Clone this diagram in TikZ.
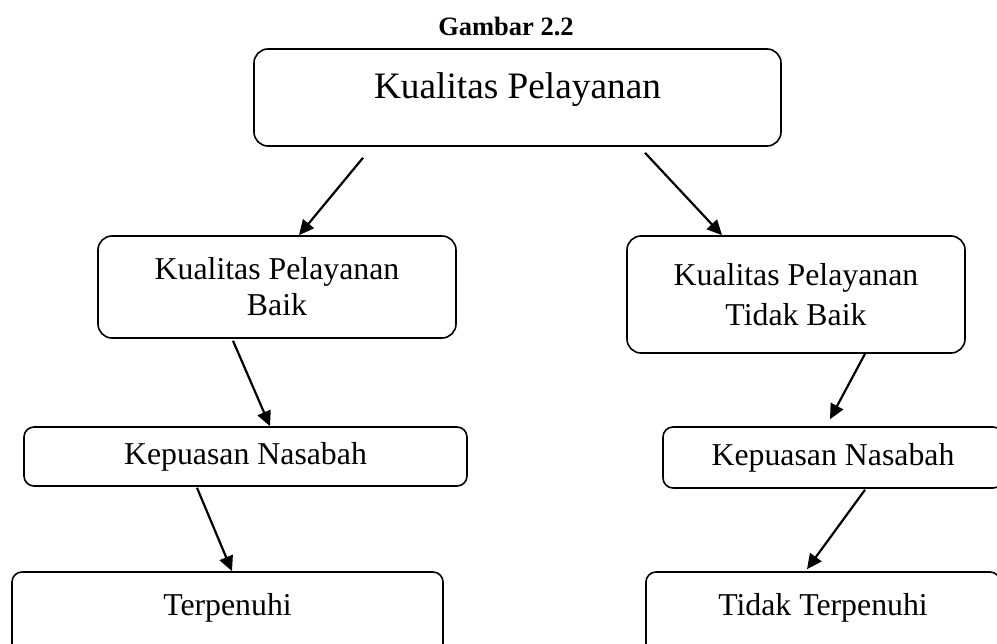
\documentclass[tikz,border=0pt]{standalone}
\usepackage{fontspec}
\setmainfont{Liberation Serif}
\usetikzlibrary{arrows.meta}

\begin{document}
\begin{tikzpicture}[
	x=1pt, y=-1pt,
	>={Triangle[length=15pt, width=14pt]},
	box/.style = {draw, rounded corners=14pt, line width=1.6pt, inner sep=0pt, align=center, font=\fontsize{31.8}{36}\selectfont},
	link/.style = {->, line width=2.2pt}
]
\useasboundingbox (0,0) rectangle (997,644);

\node[font=\fontsize{26.5}{30}\selectfont\bfseries] (judul) at (506,26) {Gambar 2.2};
\node[box, minimum width=527pt, text height=49.3pt, text depth=47.7pt, font=\fontsize{37.3}{40}\selectfont] (kp) at (517.5,97.5) {Kualitas Pelayanan};
\node[box, minimum width=358pt, minimum height=102pt] (kpb) at (277,287) {Kualitas Pelayanan\\Baik};
\node[box, minimum width=338pt, minimum height=117pt, font=\fontsize{31.8}{40}\selectfont] (kptb) at (796,294.5) {Kualitas Pelayanan\\Tidak Baik};
\node[box, rounded corners=10pt, minimum width=443pt, minimum height=59pt] (kn1) at (245.5,456.5) {Kepuasan Nasabah};
\node[box, rounded corners=10pt, minimum width=340pt, minimum height=61pt] (kn2) at (833,457.5) {Kepuasan Nasabah};
\node[box, rounded corners=10pt, minimum width=431pt, text height=43pt, text depth=45pt] (tp) at (227.5,616) {Terpenuhi};
\node[box, rounded corners=10pt, minimum width=354pt, text height=43pt, text depth=45pt] (ttp) at (823,616) {Tidak Terpenuhi};

\draw[link] ([xshift=-154.5pt, yshift=-11pt]kp.south) -- ([xshift=22pt]kpb.north);
\draw[link] ([xshift=127.5pt, yshift=-6pt]kp.south) -- ([xshift=-74pt]kptb.north);
\draw[link] ([xshift=-44pt, yshift=-2pt]kpb.south) -- ([xshift=24.5pt]kn1.north);
\draw[link] ([xshift=69pt]kptb.south) -- ([xshift=-3pt, yshift=7pt]kn2.north);
\draw[link] ([xshift=-48.5pt, yshift=-1pt]kn1.south) -- ([xshift=4.5pt]tp.north);
\draw[link] ([xshift=32pt, yshift=-1pt]kn2.south) -- ([xshift=-16pt, yshift=2pt]ttp.north);
\end{tikzpicture}
\end{document}
